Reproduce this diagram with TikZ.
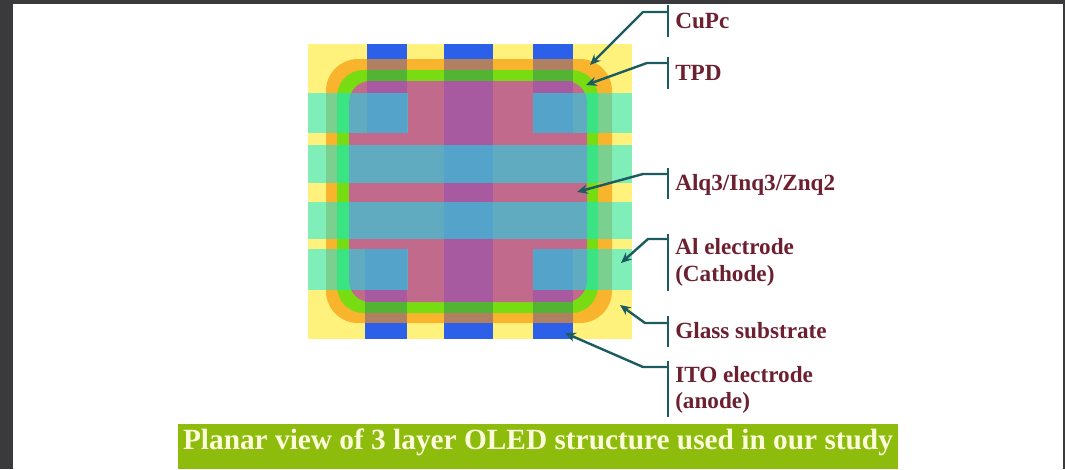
\documentclass[tikz,border=0pt]{standalone}
\usepackage{fontspec}
\usepackage{xcolor}
\setmainfont{Liberation Serif}
\usetikzlibrary{arrows.meta}
\usetikzlibrary{calc}
\definecolor{framecol}{HTML}{3A3A3C}
\definecolor{glasscol}{HTML}{FFF27C}
\definecolor{itocol}{HTML}{2C60E8}
\definecolor{itocupc}{HTML}{B08062}
\definecolor{itotpd}{HTML}{52B432}
\definecolor{itoalq}{HTML}{A85AA0}
\definecolor{cupccol}{HTML}{F8B42C}
\definecolor{tpdcol}{HTML}{78DC12}
\definecolor{alqcol}{HTML}{C26A8C}
\definecolor{alcol}{HTML}{00ECF4}
\definecolor{leadcol}{HTML}{1C5C60}
\definecolor{labelcol}{HTML}{6C2030}
\definecolor{captioncol}{HTML}{8DBC0C}
\definecolor{captiontext}{HTML}{FBFBDC}
\begin{document}
\begin{tikzpicture}[x=0.75pt,y=-0.75pt]
  \tikzset{>={Stealth[length=8pt,width=7pt]}}
  \tikzstyle{lead}=[leadcol,line width=1.8pt]
  \tikzstyle{pointer}=[lead,->,line join=round]
  \tikzstyle{lbl}=[labelcol,anchor=west,inner sep=0pt,font=\fontsize{17.4}{20}\selectfont\bfseries]
  \tikzstyle{al}=[fill=alcol,opacity=0.5]

  % Frame
  \useasboundingbox (0,0) rectangle (1065,469);
  \fill[framecol] (0,0) rectangle (1065,469);
  \fill[white] (13,4) rectangle (1063,469);

  % Substrate and layers
  \fill[glasscol] (308,44) rectangle (632,339);
  \fill[cupccol,rounded corners=24pt] (326,59) rectangle (612,323);
  \fill[tpdcol,rounded corners=20pt] (337,70) rectangle (598,313);
  \fill[alqcol,rounded corners=16pt] (349,81) rectangle (587,302);

  % ITO tabs
  \foreach \xa/\xb/\ye in {367/407/133,444/493/200,533/573/133}{
    \fill[itocol] (\xa,44) rectangle (\xb,59);
    \fill[itocupc] (\xa,59) rectangle (\xb,70);
    \fill[itotpd] (\xa,70) rectangle (\xb,81);
    \fill[itoalq] (\xa,81) rectangle (\xb,\ye);
  }
  \foreach \xa/\xb/\ya in {365/407/249,444/493/200,533/573/249}{
    \fill[itoalq] (\xa,\ya) rectangle (\xb,302);
    \fill[itotpd] (\xa,302) rectangle (\xb,313);
    \fill[itocupc] (\xa,313) rectangle (\xb,323);
    \fill[itocol] (\xa,323) rectangle (\xb,339);
  }

  % Al electrodes
  \foreach \ya/\yb in {93/133,249/290}{
    \fill[al] (308,\ya) rectangle (408,\yb);
    \fill[al] (533,\ya) rectangle (632,\yb);
  }
  \foreach \ya/\yb in {145/183,202/239}
    \fill[al] (308,\ya) rectangle (632,\yb);

  % Labels
  \node[lbl] (cupc) at (675,20.5) {CuPc};
  \node[lbl] (tpd) at (675,72.5) {TPD};
  \node[lbl] (alq) at (675,185) {Alq3/Inq3/Znq2};
  \node[lbl,align=left] (alel) at (675,262.5) {Al electrode\\(Cathode)};
  \node[lbl] (glass) at (675,330.5) {Glass substrate};
  \node[lbl,align=left] (ito) at (675,390) {ITO electrode\\(anode)};

  % Leaders
  \coordinate (cupctip) at (590,65);
  \coordinate (tpdtip) at (586,85);
  \coordinate (alqtip) at (577,192);
  \coordinate (aleltip) at (621,263);
  \coordinate (glasstip) at (620,305);
  \coordinate (itotip) at (565,333);
  \foreach \n/\ya/\yb/\ys/\xs in {cupc/5/37/12/643,tpd/57/89/63/647,alq/168/199/174/643,alel/234/291/239/648,glass/316/347/323/645,ito/361/417/367/643}{
    \draw[lead] (668,\ya) -- (668,\yb);
    \draw[pointer] (668,\ys) -- (\xs,\ys) -- (\n tip);
  }

  % Caption
  \fill[captioncol] (178,424) rectangle (898,469);
  \node[captiontext,inner sep=0pt,font=\fontsize{22}{26}\selectfont\bfseries] (caption) at (538,442.5) {Planar view of 3 layer OLED structure used in our study};
\end{tikzpicture}
\end{document}
